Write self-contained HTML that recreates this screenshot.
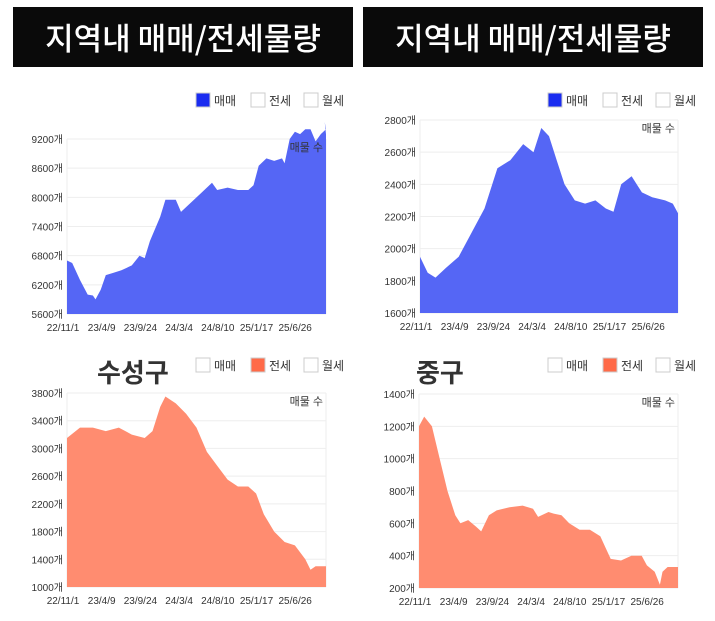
<!DOCTYPE html>
<html><head><meta charset="utf-8"><style>
body{margin:0;background:#fff;width:715px;height:621px;overflow:hidden;font-family:"Liberation Sans","Noto Sans CJK KR",sans-serif}
.ban{position:absolute;top:7px;height:60px;width:340px;background:#0a0a0a;color:#fff;font-size:31px;font-weight:500;text-align:center;line-height:60px;font-family:"Noto Sans CJK KR",sans-serif}
svg{position:absolute;left:0;top:0}
</style></head><body>
<div class="ban" style="left:13px">지역내 매매/전세물량</div>
<div class="ban" style="left:363px">지역내 매매/전세물량</div>
<svg id="s" width="715" height="621" font-family="Liberation Sans, Noto Sans CJK KR, sans-serif"></svg>
<script>
const S=document.getElementById('s');let h='';
const labs=['22/11/1','23/4/9','23/9/24','24/3/4','24/8/10','25/1/17','25/6/26'];
function chart(x0,x1,yTop,yBot,vMin,vMax,step,col,data,legY,legSel,title,tx){
 const sc=v=>yBot-(v-vMin)/(vMax-vMin)*(yBot-yTop);
 for(let v=vMin;v<=vMax;v+=step){let y=sc(v);h+=`<line x1="${x0}" x2="${x1}" y1="${y}" y2="${y}" stroke="#eee"/>`;
  h+=`<text x="${x0-4}" y="${y+4}" font-size="10" text-anchor="end" fill="#333">${v}개</text>`;}
 h+=`<line x1="${x0}" x2="${x0}" y1="${yTop}" y2="${yBot}" stroke="#eee"/><line x1="${x1}" x2="${x1}" y1="${yTop}" y2="${yBot}" stroke="#eee"/>`;
 let pts=[];for(let i=0;i<data.length;i+=2){pts.push((x0+data[i]*(x1-x0)).toFixed(1)+','+sc(data[i+1]).toFixed(1));}
 h+=`<polygon fill="${col}" points="${x0},${yBot} ${pts.join(' ')} ${x1},${yBot}"/>`;
 h+=`<text x="${x1-3}" y="${yTop+12}" font-size="11" text-anchor="end" fill="#333">매물 수</text>`;
 labs.forEach((l,i)=>{h+=`<text x="${x0-4+i*38.7}" y="${yBot+17}" font-size="10" text-anchor="middle" fill="#333">${l}</text>`});
 const names=['매매','전세','월세'];const lx=[x1-130,x1-75,x1-22];
 names.forEach((n,i)=>{let fill=i==legSel?(legSel==0?'#1a2cf0':'#ff6a48'):'#fff';
  h+=`<rect x="${lx[i]}" y="${legY}" width="14" height="14" fill="${fill}" stroke="#ccc"/><text x="${lx[i]+18}" y="${legY+12}" font-size="12" fill="#333">${n}</text>`});
 if(title)h+=`<text x="${tx}" y="${legY+24}" font-size="26" font-weight="bold" fill="#333" font-family="Noto Sans CJK KR, sans-serif">${title}</text>`;
}
chart(67,326,139,314,5600,9200,600,'#5566f5',[0,6700,0.02,6650,0.05,6300,0.08,6000,0.1,5980,0.11,5900,0.13,6100,0.15,6400,0.18,6450,0.21,6500,0.25,6600,0.28,6800,0.3,6750,0.32,7100,0.36,7600,0.38,7950,0.42,7950,0.44,7700,0.48,7900,0.52,8100,0.56,8300,0.58,8150,0.62,8200,0.66,8150,0.7,8150,0.72,8250,0.74,8650,0.77,8800,0.8,8750,0.83,8800,0.84,8700,0.86,9200,0.88,9350,0.9,9300,0.92,9400,0.94,9400,0.96,9150,0.98,9300,1.0,9400,0.995,9550,1,9300],93,0,'');
chart(420,678,120,313,1600,2800,200,'#5566f5',[0,1950,0.03,1850,0.06,1820,0.1,1880,0.15,1950,0.2,2100,0.25,2250,0.3,2500,0.35,2550,0.4,2650,0.44,2600,0.47,2750,0.5,2700,0.53,2550,0.56,2400,0.6,2300,0.64,2280,0.68,2300,0.72,2250,0.75,2230,0.78,2400,0.82,2450,0.86,2350,0.9,2320,0.95,2300,0.98,2280,1,2220],93,0,'');
chart(67,326,393,587,1000,3800,400,'#ff8c70',[0,3150,0.05,3300,0.1,3300,0.15,3250,0.2,3300,0.25,3200,0.3,3150,0.33,3250,0.36,3600,0.38,3750,0.42,3650,0.46,3500,0.5,3300,0.54,2950,0.58,2750,0.62,2550,0.66,2450,0.7,2450,0.73,2350,0.76,2050,0.8,1800,0.84,1650,0.88,1600,0.92,1400,0.94,1250,0.96,1300,1,1300],358,1,'수성구',97);
chart(419,678,394,588,200,1400,200,'#ff8c70',[0,1200,0.02,1260,0.05,1200,0.08,1000,0.11,800,0.14,650,0.16,600,0.19,620,0.22,580,0.24,550,0.27,650,0.3,680,0.35,700,0.4,710,0.44,690,0.46,640,0.5,670,0.52,660,0.55,650,0.58,600,0.62,560,0.66,560,0.7,520,0.72,450,0.74,380,0.78,370,0.82,400,0.86,400,0.88,340,0.91,300,0.93,220,0.94,300,0.96,330,1,330],358,1,'중구',416);
S.innerHTML=h;
</script>
</body></html>
